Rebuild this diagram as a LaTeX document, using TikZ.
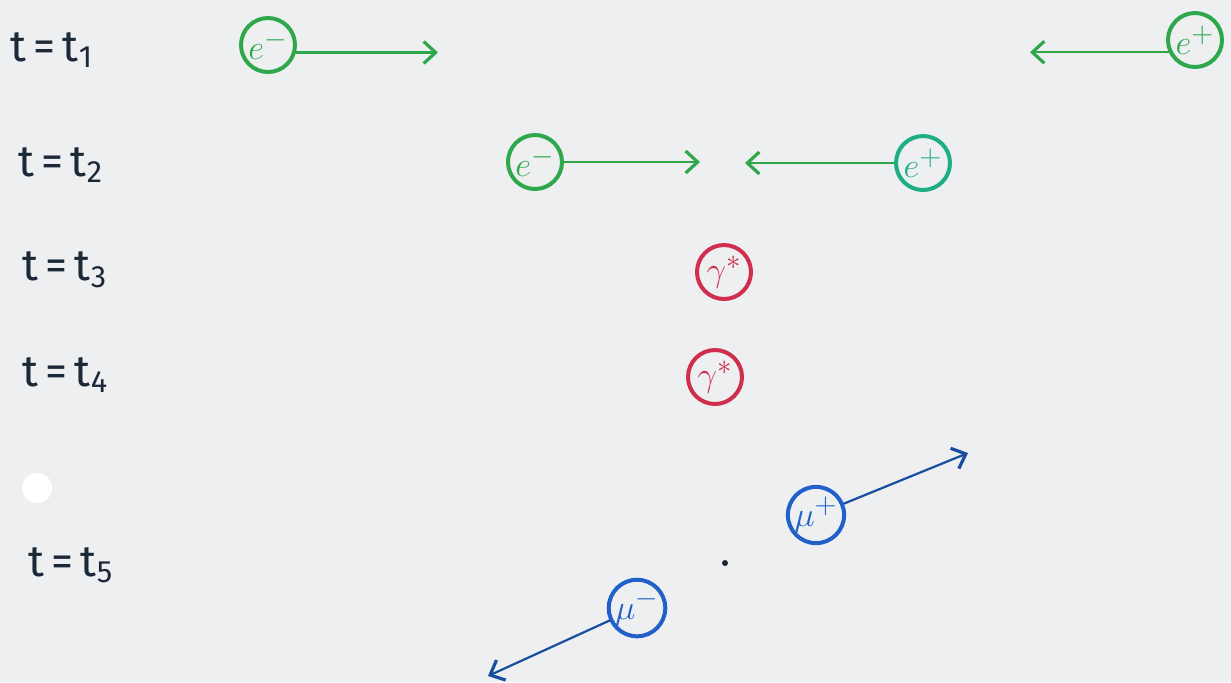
\documentclass[tikz,border=0pt]{standalone}
\usepackage{fontspec}
\setmainfont{Fira Sans}
\usetikzlibrary{arrows.meta}
\definecolor{paper}{HTML}{EDEFF1}
\definecolor{ink}{HTML}{1B2838}
\definecolor{egreen}{HTML}{2FA84C}
\definecolor{eteal}{HTML}{1EAE86}
\definecolor{gred}{HTML}{CF2E4C}
\definecolor{mblue}{HTML}{2060C8}
\begin{document}
\begin{tikzpicture}[x=0.5pt,y=-0.5pt,
  part/.style={circle, draw, line width=2pt, minimum size=27pt, inner sep=0pt,
               font=\fontsize{19}{19}\selectfont},
  mv/.style={line width=1.1pt, line cap=round,
             -{Straight Barb[length=6pt,width=11pt,line width=1.6pt]}},
  lab/.style={anchor=west, inner sep=0pt, text=ink, font=\fontsize{22}{22}\selectfont}]
  % sheet
  \fill[paper] (0,0) rectangle (1231,682);
  \useasboundingbox (0,0) rectangle (1231,682);
  \node[circle, fill=white, minimum size=15pt, inner sep=0pt] (spot) at (37,488) {};

  % time labels
  \node[lab] (t1) at (10,50)  {t\,=\,t\textsubscript{1}};
  \node[lab] (t2) at (18,165) {t\,=\,t\textsubscript{2}};
  \node[lab] (t3) at (22,270) {t\,=\,t\textsubscript{3}};
  \node[lab] (t4) at (22,375) {t\,=\,t\textsubscript{4}};
  \node[lab] (t5) at (28,565) {t\,=\,t\textsubscript{5}};

  % t1: electron and positron approach
  \node[part, egreen] (em1) at (268,45)  {$e^{-}$};
  \node[part, egreen] (ep1) at (1195,40) {$e^{+}$};
  \coordinate (em1h) at (438,50);
  \coordinate (ep1h) at (1030,52);
  \draw[mv, egreen] (em1.345) -- (em1.345 -| em1h);
  \draw[mv, egreen] (ep1.205) -- (ep1.205 -| ep1h);

  % t2: closer
  \node[part, egreen] (em2) at (535,162) {$e^{-}$};
  \node[part, eteal]  (ep2) at (923,163) {$e^{+}$};
  \coordinate (em2h) at (700,160);
  \coordinate (ep2h) at (745,160);
  \draw[mv, egreen] (em2.east) -- (em2.east -| em2h);
  \draw[mv, egreen] (ep2.west) -- (ep2.west -| ep2h);

  % t3, t4: virtual photon
  \node[part, gred] (g3) at (724,272) {$\gamma^{*}$};
  \node[part, gred] (g4) at (715,377) {$\gamma^{*}$};

  % t5: muon pair flies apart
  \node[part, mblue, minimum size=24pt] (mp) at (816,515) {$\mu^{+}$};
  \node[part, mblue, minimum size=24pt] (mm) at (637,608) {$\mu^{-}$};
  \coordinate (mph) at (968,453);
  \coordinate (mmh) at (488,676);
  \draw[mv, mblue!80!black] (mp) -- (mph);
  \draw[mv, mblue!80!black] (mm) -- (mmh);
  \node[circle, fill=ink, minimum size=3pt, inner sep=0pt] (vtx) at (725,563) {};
\end{tikzpicture}
\end{document}
